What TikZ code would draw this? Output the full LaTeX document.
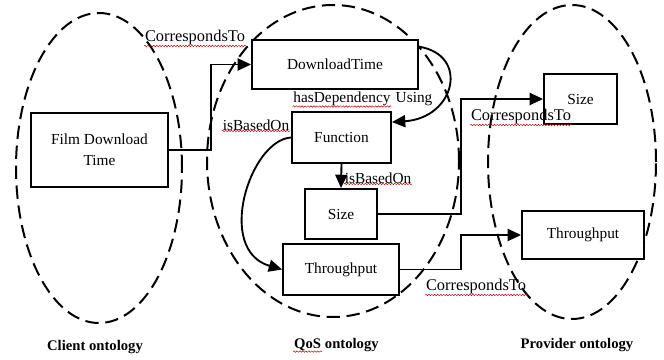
\documentclass[tikz,border=0pt]{standalone}
\usepackage{fontspec}
\setmainfont{Liberation Serif}
\usetikzlibrary{arrows.meta,decorations.pathmorphing}
\begin{document}
\begin{tikzpicture}[x=0.75pt,y=-0.75pt,
  onto/.style={draw,line width=1.5pt,dash pattern=on 10pt off 5pt},
  box/.style={draw,fill=white,line width=1.4pt,inner sep=0pt,font=\fontsize{11.5}{15.5}\selectfont},
  lab/.style={inner sep=0.5pt,font=\fontsize{11.5}{13}\selectfont},
  corr/.style={lab,font=\fontsize{12.3}{14}\selectfont},
  title/.style={inner sep=0.5pt,font=\fontsize{11}{13}\selectfont\bfseries},
  link/.style={line width=1.4pt},
  arr/.style={link,-{Triangle[length=10pt,width=9pt]}},
  squiggle/.style={draw=red!75!black,line width=0.35pt,decorate,
    decoration={snake,amplitude=0.55pt,segment length=2.2pt}}]
\useasboundingbox (0,0) rectangle (664,360);
\fill[white] (0,0) rectangle (664,360);

% the three ontologies
\draw[onto] (99,168) ellipse [x radius=62.25pt,y radius=116.25pt];
\draw[onto] (333,161) ellipse [x radius=94.5pt,y radius=117pt];
\draw[onto] (572,162) ellipse [x radius=63pt,y radius=117.75pt];

% concepts
\node[box,minimum width=102.75pt,minimum height=55.5pt,align=center] (film) at (99.5,150) {Film Download\\Time};
\node[box,minimum width=124.5pt,minimum height=36.75pt] (dl) at (335,64.5) {DownloadTime};
\node[box,minimum width=74.25pt,minimum height=38.25pt] (fn) at (341.5,137.5) {Function};
\node[box,minimum width=54pt,minimum height=37.5pt] (sz) at (341,214) {Size};
\node[box,minimum width=87pt,minimum height=38.25pt] (tp) at (341,269.5) {Throughput};
\node[box,minimum width=54.75pt,minimum height=37.5pt] (psz) at (580.5,99) {Size};
\node[box,minimum width=91.5pt,minimum height=36pt] (ptp) at (583,235) {Throughput};

% relations
\coordinate (jx) at (461,0);
\draw[arr] (film.east) -- ++(42,0) |- (dl.west);
\draw[arr] (dl.12) .. controls (470,55) and (455,118) .. (fn.17);
\draw[arr] (fn.west) .. controls (250,140) and (215,250) .. (tp.west);
\draw[arr] (fn.south) -- (sz.north);
\draw[arr] (sz.east) -- (sz.east -| jx) |- (psz.west);
\draw[arr] (tp.east) -- (tp.east -| jx) |- (ptp.west);

% relation labels
\node[corr] (c1) at (195,38) {CorrespondsTo};
\node[lab] (hd) at (342,99) {hasDependency};
\node[lab,anchor=west] (us) at ([xshift=2.5pt]hd.east) {Using};
\node[lab] (b1) at (256,125) {isBasedOn};
\node[lab,anchor=west] (b2) at (344,178) {isBasedOn};
\node[corr] (c2) at (521,117) {CorrespondsTo};
\node[corr] (c3) at (476,287) {CorrespondsTo};

% ontology titles
\node[title] (t1) at (95,347) {Client ontology};
\node[title,anchor=east] (t2) at (322,345) {QoS};
\node[title,anchor=west] (t2b) at ([xshift=1.5pt]t2.east) {ontology};
\node[title] (t3) at (577,345) {Provider ontology};

% spelling marks under the words
\foreach \w in {c1,hd,b1,b2,c2,c3,t2}
  \draw[squiggle] ([yshift=0.3pt]\w.south west) -- ([yshift=0.3pt]\w.south east);
\end{tikzpicture}
\end{document}
